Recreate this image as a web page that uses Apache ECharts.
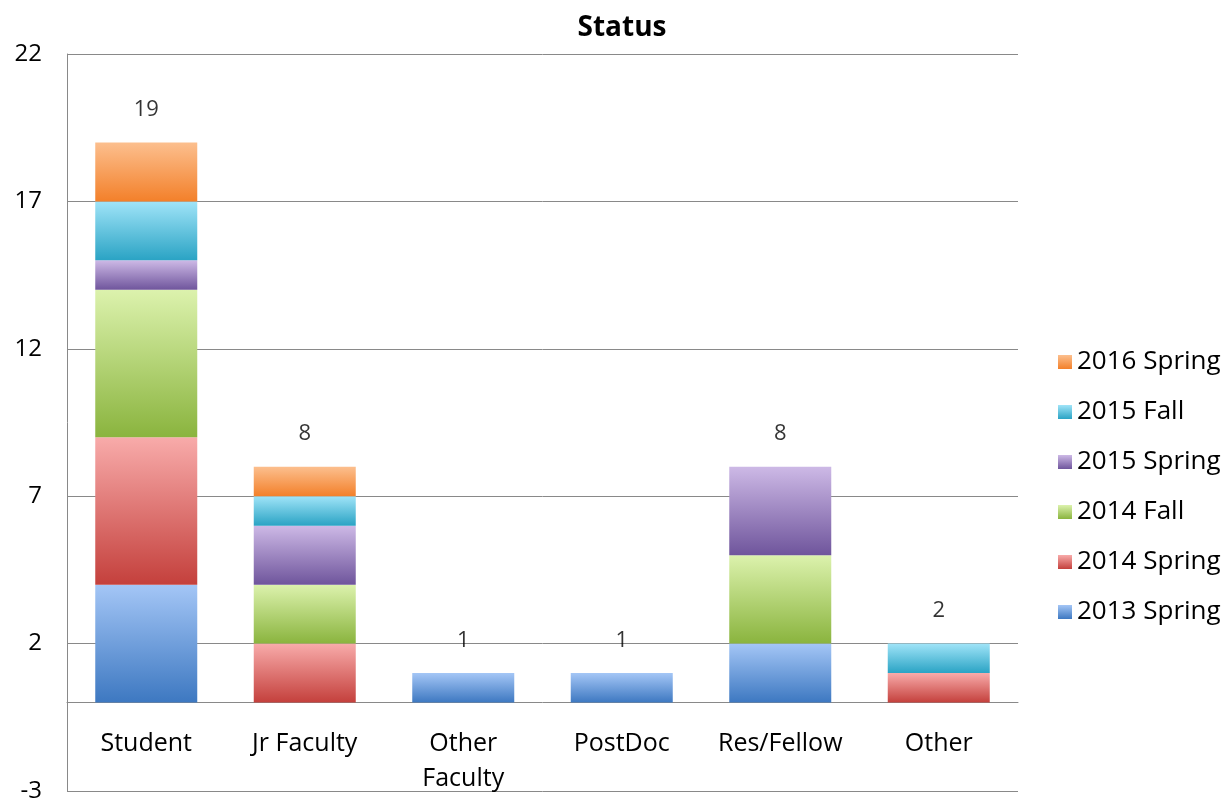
<!DOCTYPE html>
<html>
<head>
<meta charset="utf-8">
<script src="https://cdn.jsdelivr.net/npm/echarts@6/dist/echarts.min.js"></script>
<style>
html,body{margin:0;padding:0;background:#fff;}
#chart{width:1226px;height:802px;}
</style>
</head>
<body>
<div id="chart"></div>
<script>
var categories = ['Student', 'Jr Faculty', 'Other\nFaculty', 'PostDoc', 'Res/Fellow', 'Other'];
var seriesNames = ['2013 Spring', '2014 Spring', '2014 Fall', '2015 Spring', '2015 Fall', '2016 Spring'];
var s2013Spring = [4, 0, 1, 1, 2, 0];
var s2014Spring = [5, 2, 0, 0, 0, 1];
var s2014Fall   = [5, 2, 0, 0, 3, 0];
var s2015Spring = [1, 2, 0, 0, 3, 0];
var s2015Fall   = [2, 1, 0, 0, 0, 1];
var s2016Spring = [2, 1, 0, 0, 0, 0];
var yTicks = [-3, 2, 7, 12, 17, 22];

var seriesValues = [s2013Spring, s2014Spring, s2014Fall, s2015Spring, s2015Fall, s2016Spring];
var gradColors = [
  ['#a4c6f6', '#3d78c1'],
  ['#f8abaa', '#c4403c'],
  ['#dcf2ad', '#8ab43e'],
  ['#cdb9e6', '#6f559c'],
  ['#a0e4f8', '#2aa3c4'],
  ['#fcbf8e', '#f3802a']
];
var totals = categories.map(function (c, i) {
  return seriesValues.reduce(function (s, arr) { return s + arr[i]; }, 0);
});

var FONT = 'Open Sans';
var GRID_TOP = 54, GRID_BOTTOM = 11, H = 802;
var yMin = yTicks[0], yMax = yTicks[yTicks.length - 1];
var gridH = H - GRID_TOP - GRID_BOTTOM;
var zeroOffset = -(0 - yMin) / (yMax - yMin) * gridH;

var series = seriesNames.map(function (name, k) {
  return {
    name: name,
    type: 'bar',
    stack: 'total',
    barWidth: 102,
    data: seriesValues[k],
    itemStyle: {
      color: {
        type: 'linear', x: 0, y: 0, x2: 0, y2: 1,
        colorStops: [{offset: 0, color: gradColors[k][0]}, {offset: 1, color: gradColors[k][1]}]
      }
    },
    emphasis: {disabled: true}
  };
});
series.push({
  name: 'Total',
  type: 'scatter',
  data: totals,
  symbolSize: 1,
  itemStyle: {color: 'rgba(0,0,0,0)'},
  label: {
    show: true,
    position: 'top',
    distance: 21,
    color: '#000',
    fontFamily: FONT,
    fontSize: 22
  },
  emphasis: {disabled: true},
  z: 5
});

var chart = echarts.init(document.getElementById('chart'));
chart.setOption({
  animation: false,
  backgroundColor: '#fff',
  title: {
    text: 'Status',
    left: 617,
    textAlign: 'center',
    top: 9,
    textStyle: {fontFamily: FONT, fontSize: 28, fontWeight: 'bold', color: '#000'}
  },
  legend: {
    orient: 'vertical',
    left: 1058,
    top: 349,
    padding: 0,
    itemWidth: 14,
    itemHeight: 14,
    itemGap: 24,
    icon: 'rect',
    data: seriesNames.slice().reverse(),
    textStyle: {fontFamily: FONT, fontSize: 26, color: '#000'}
  },
  grid: {left: 67, right: 208, top: GRID_TOP, bottom: GRID_BOTTOM, containLabel: false, outerBoundsMode: 'none'},
  xAxis: {
    type: 'category',
    data: categories,
    position: 'bottom',
    offset: zeroOffset,
    axisTick: {show: false},
    axisLine: {onZero: false, lineStyle: {color: '#898989', width: 1}},
    axisLabel: {
      interval: 0,
      margin: 24,
      color: '#000',
      fontFamily: FONT,
      fontSize: 25,
      lineHeight: 35
    }
  },
  yAxis: {
    type: 'value',
    min: yMin,
    max: yMax,
    interval: yTicks[1] - yTicks[0],
    axisLine: {show: true, lineStyle: {color: '#898989', width: 1}},
    axisTick: {show: false},
    splitLine: {show: true, lineStyle: {color: '#898989', width: 1}},
    axisLabel: {margin: 25, color: '#000', fontFamily: FONT, fontSize: 24}
  },
  series: series
});
</script>
</body>
</html>
